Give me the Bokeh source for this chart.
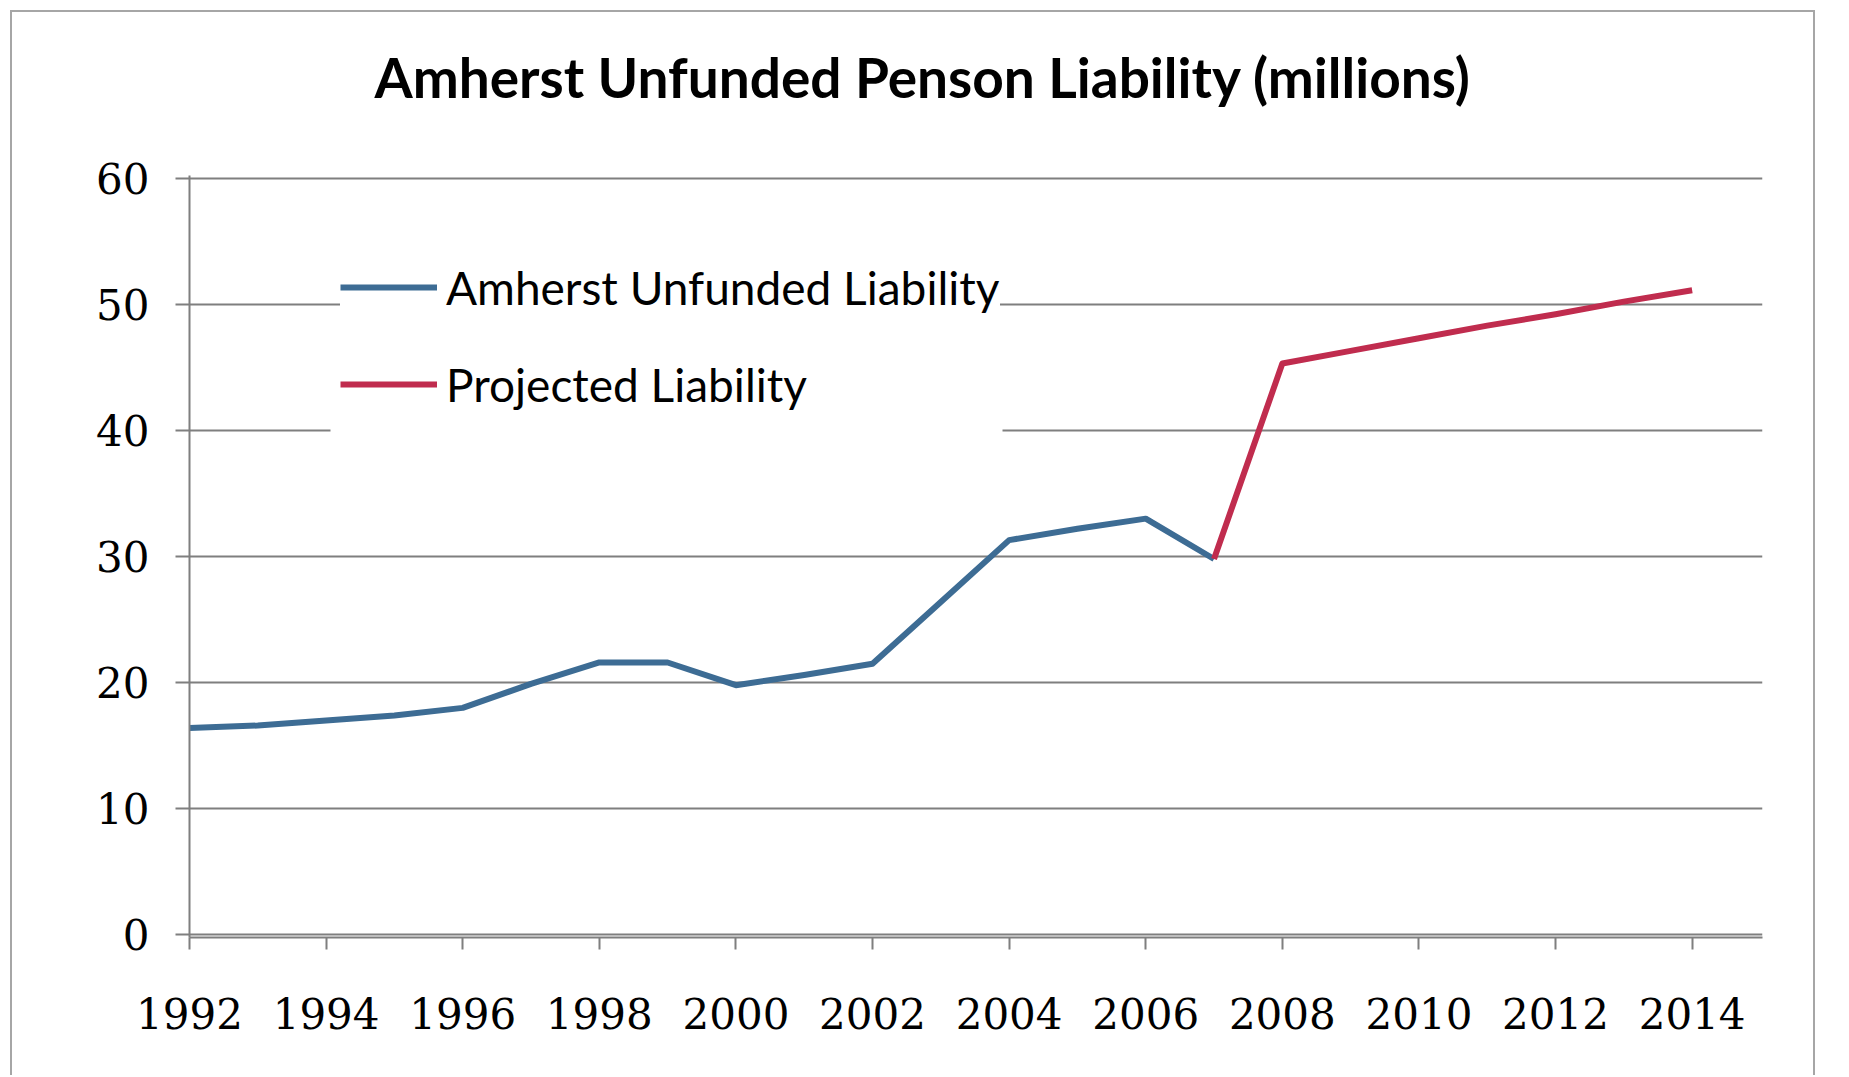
from bokeh.plotting import figure
from bokeh.models import Range1d, FixedTicker, Legend, LegendItem, BoxAnnotation
from bokeh.embed import file_html
from bokeh.resources import INLINE

# ---- data ----
years_actual = [1992, 1993, 1994, 1995, 1996, 1997, 1998, 1999, 2000, 2001, 2002, 2003, 2004, 2005, 2006, 2007]
actual = [16.4, 16.6, 17.0, 17.4, 18.0, 19.9, 21.6, 21.6, 19.8, 20.6, 21.5, 26.4, 31.3, 32.2, 33.0, 29.8]
years_proj = [2007, 2008, 2009, 2010, 2011, 2012, 2013, 2014]
projected = [29.8, 45.3, 46.3, 47.3, 48.3, 49.2, 50.2, 51.1]
x_ticks = [1992, 1994, 1996, 1998, 2000, 2002, 2004, 2006, 2008, 2010, 2012, 2014]
y_ticks = [0, 10, 20, 30, 40, 50, 60]
title_text = "Amherst Unfunded Penson Liability (millions)"
series_names = ["Amherst Unfunded Liability", "Projected Liability"]

BLUE = "#3D6C94"
RED = "#C02C4E"
GRID = "#7F7F7F"

p = figure(width=1805, height=1065, output_backend="svg", toolbar_location=None,
           x_range=Range1d(1992, 2015.03), y_range=Range1d(-0.2, 60.2),
           min_border_left=177, min_border_right=55, min_border_top=163, min_border_bottom=140)
p.styles = {"margin-left": "10px", "margin-top": "10px",
            "border-left": "2px solid #A6A6A6", "border-top": "2px solid #A6A6A6",
            "border-right": "2px solid #A6A6A6"}
p.background_fill_color = "white"
p.border_fill_color = "white"
p.outline_line_color = None

# trailing empty line lifts the title higher above the frame
p.title.text = title_text + "\n"
p.title.align = "left"
p.title.offset = 185
p.title.standoff = 0
p.title.text_font = "Lato"
p.title.text_font_style = "bold"
p.title.text_font_size = "55px"
p.title.text_color = "black"

# grid
p.xgrid.visible = False
p.ygrid.ticker = FixedTicker(ticks=y_ticks)
p.ygrid.grid_line_color = GRID
p.ygrid.grid_line_width = 2

# axes
p.xaxis.ticker = FixedTicker(ticks=x_ticks)
p.yaxis.ticker = FixedTicker(ticks=y_ticks)
for ax in (p.xaxis[0], p.yaxis[0]):
    ax.axis_line_color = GRID
    ax.axis_line_width = 2
    ax.major_tick_line_color = GRID
    ax.major_tick_line_width = 2
    ax.major_tick_in = 0
    ax.minor_tick_line_color = None
    ax.major_label_text_font = "DejaVu Serif"
    ax.major_label_text_font_size = "42px"
    ax.major_label_text_color = "black"
p.xaxis.major_tick_out = 12
p.xaxis.major_label_standoff = 48
p.yaxis.major_tick_out = 14
p.yaxis.major_label_standoff = 26

r1 = p.line(years_actual, actual, line_color=BLUE, line_width=6, line_join="round")
r2 = p.line(years_proj, projected, line_color=RED, line_width=6, line_join="round")

# white patch extending the legend background downward (hides grid line under it)
legend_bg = BoxAnnotation(left=141, right=813, bottom=495, top=540,
                          left_units="screen", right_units="screen",
                          bottom_units="screen", top_units="screen",
                          fill_color="white", fill_alpha=1.0, line_color=None)
p.add_layout(legend_bg)

legend = Legend(items=[LegendItem(label=series_names[0], renderers=[r1]),
                       LegendItem(label=series_names[1], renderers=[r2])],
                location=(151, 525), orientation="vertical")
legend.background_fill_color = "white"
legend.background_fill_alpha = 1.0
legend.border_line_color = None
legend.label_text_font = "Lato"
legend.label_text_font_size = "46px"
legend.label_text_color = "black"
legend.glyph_width = 97
legend.glyph_height = 56
legend.label_height = 56
legend.label_standoff = 9
legend.spacing = 41
legend.padding = 2
legend.margin = 0
p.add_layout(legend, "center")

open("out.html", "w").write(file_html(p, INLINE))
